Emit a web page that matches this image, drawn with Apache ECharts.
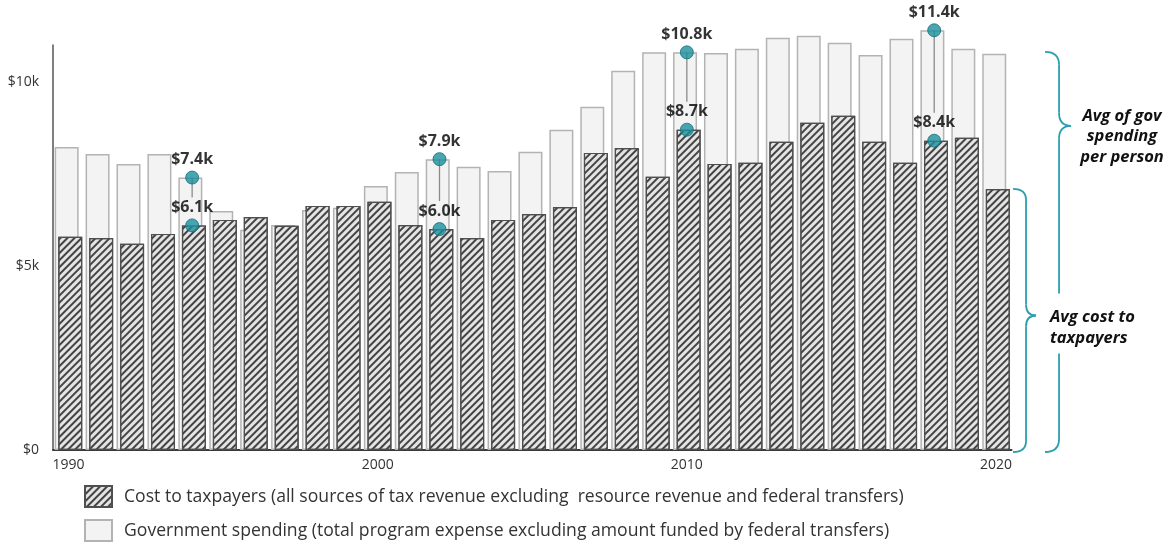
<!DOCTYPE html>
<html>
<head>
<meta charset="utf-8">
<script src="https://cdn.jsdelivr.net/npm/echarts@6/dist/echarts.min.js"></script>
<style>
  html, body { margin: 0; padding: 0; background: #ffffff; }
  #chart { width: 1170px; height: 544px; }
</style>
</head>
<body>
<div id="chart"></div>
<script>
// Per-person amounts, in dollars, by fiscal year
const years = ['1990','1991','1992','1993','1994','1995','1996','1997','1998','1999',
               '2000','2001','2002','2003','2004','2005','2006','2007','2008','2009',
               '2010','2011','2012','2013','2014','2015','2016','2017','2018','2019','2020'];

// Government spending (total program expense excluding federal-transfer funded amount)
const govSpending = [8230, 8040, 7770, 8040, 7400, 6490, 5980, 6110, 6520, 6580,
                     7170, 7550, 7900, 7690, 7580, 8100, 8700, 9320, 10300, 10800,
                     10800, 10780, 10900, 11200, 11250, 11060, 10730, 11170, 11400, 10900, 10760];

// Cost to taxpayers (tax revenue excluding resource revenue and federal transfers)
const taxpayerCost = [5790, 5760, 5600, 5870, 6100, 6250, 6330, 6090, 6630, 6630,
                      6740, 6110, 6000, 5760, 6250, 6410, 6600, 8070, 8200, 7420,
                      8700, 7770, 7800, 8370, 8890, 9080, 8370, 7800, 8400, 8480, 7090];

// Years called out with value labels
const calloutYears = ['1994', '2002', '2010', '2018'];

// Axis tick labels
const xTickYears = ['1990', '2000', '2010', '2020'];
const yTickLabels = { 0: '$0', 5000: '$5k', 10000: '$10k' };

const legendNames = [
  'Cost to taxpayers (all sources of tax revenue excluding  resource revenue and federal transfers)',
  'Government spending (total program expense excluding amount funded by federal transfers)'
];

const braceNotes = {
  gov: ['Avg of gov', 'spending', 'per person'],
  cost: ['Avg cost to', 'taxpayers']
};

const FONT = '"Open Sans", Roboto, "Liberation Sans", sans-serif';
const TEAL = '#1b8e9c';
const BRACE = '#2a9fad';

const fmtK = v => '$' + (v / 1000).toFixed(1) + 'k';

// Callout points: the top of each bar in a called-out year
const calloutPoints = [];
const connectorData = [];
calloutYears.forEach(y => {
  const i = years.indexOf(y);
  calloutPoints.push({ value: [y, govSpending[i]] });
  calloutPoints.push({ value: [y, taxpayerCost[i]] });
  connectorData.push([y, govSpending[i], taxpayerCost[i]]);
});

const chart = echarts.init(document.getElementById('chart'));

const hatch = {
  symbol: 'rect',
  symbolSize: 1,
  dashArrayX: [1, 0],
  dashArrayY: [2, 2.6],
  rotation: -Math.PI / 4,
  color: '#444444'
};

// one legend block per row, stacked
const legendRow = (name, top) => ({
  left: 84,
  top,
  padding: 0,
  itemWidth: 27,
  itemHeight: 21,
  icon: 'rect',
  data: [name],
  textStyle: { fontFamily: FONT, fontSize: 17.6, color: '#333333', padding: [0, 0, 0, 7] }
});

chart.setOption({
  animation: false,
  backgroundColor: '#ffffff',
  textStyle: { fontFamily: FONT },
  grid: { left: 53, right: 158.5, top: 45, bottom: 94, containLabel: false },
  legend: [legendRow(legendNames[0], 485), legendRow(legendNames[1], 519)],
  xAxis: {
    type: 'category',
    data: years,
    boundaryGap: true,
    axisLine: { show: true, lineStyle: { color: '#3a3a3a', width: 2 } },
    axisTick: { show: false },
    axisLabel: {
      interval: 0,
      margin: 8,
      color: '#333333',
      fontSize: 14,
      fontFamily: FONT,
      formatter: v => (xTickYears.indexOf(v) >= 0 ? v : '')
    },
    splitLine: { show: false }
  },
  yAxis: {
    type: 'value',
    min: 0,
    max: 11000,
    interval: 5000,
    axisLine: { show: true, lineStyle: { color: '#555555', width: 1.5 } },
    axisTick: { show: false },
    splitLine: { show: false },
    axisLabel: {
      margin: 14,
      color: '#333333',
      fontSize: 14,
      fontFamily: FONT,
      formatter: v => (yTickLabels[v] !== undefined ? yTickLabels[v] : '')
    }
  },
  series: [
    {
      name: legendNames[1],
      type: 'bar',
      data: govSpending,
      barWidth: 24,
      barGap: '-85%',
      clip: false,
      itemStyle: { color: '#f3f3f3', borderColor: '#b3b3b3', borderWidth: 1.5 },
      z: 2
    },
    {
      name: legendNames[0],
      type: 'bar',
      data: taxpayerCost,
      barWidth: 24,
      barGap: '-85%',
      clip: false,
      itemStyle: { color: '#e4e4e4', borderColor: '#4f4f4f', borderWidth: 1.2, decal: hatch },
      z: 3
    },
    {
      // thin leader from the spending callout down to the taxpayer-cost label
      type: 'custom',
      data: connectorData,
      clip: false,
      z: 4,
      silent: true,
      renderItem: (params, api) => {
        const top = api.coord([api.value(0), api.value(1)]);
        const low = api.coord([api.value(0), api.value(2)]);
        return {
          type: 'line',
          shape: { x1: top[0], y1: top[1], x2: top[0], y2: low[1] - 28 },
          style: { stroke: '#8a8a8a', lineWidth: 1.3 }
        };
      }
    },
    {
      type: 'scatter',
      data: calloutPoints,
      symbol: 'circle',
      symbolSize: 13,
      clip: false,
      z: 5,
      itemStyle: { color: TEAL, borderColor: '#136f7a', borderWidth: 1 },
      label: {
        show: true,
        position: 'top',
        distance: 3,
        fontFamily: FONT,
        fontSize: 16,
        fontWeight: 'bold',
        color: '#000000',
        formatter: p => fmtK(p.value[1])
      }
    }
  ]
});

// Curly brace built from lines and quadratic curves: hooks at x0, spine at xm, tip at xt
function braceParts(x0, xm, xt, yTop, yBot, yTip, r, gap) {
  const style = { stroke: BRACE, lineWidth: 1.8, fill: null };
  const curve = (x1, y1, cx, cy, x2, y2) => ({
    type: 'bezierCurve', silent: true, style,
    shape: { x1, y1, cpx1: cx, cpy1: cy, x2, y2 }
  });
  const line = (y1, y2) => ({
    type: 'line', silent: true, style,
    shape: { x1: xm, y1, x2: xm, y2 }
  });
  const parts = [
    curve(x0, yTop, xm, yTop, xm, yTop + r),
    line(yTop + r, yTip - r),
    curve(xm, yTip - r, xm, yTip, xt, yTip),
    curve(xt, yTip, xm, yTip, xm, yTip + r),
    curve(xm, yBot - r, xm, yBot, x0, yBot)
  ];
  if (gap) {
    parts.push(line(yTip + r, gap[0]), line(gap[1], yBot - r));
  } else {
    parts.push(line(yTip + r, yBot - r));
  }
  return parts;
}

function drawBraces() {
  const last = years[years.length - 1];
  const n = years.length - 1;
  const govTop = chart.convertToPixel({ seriesIndex: 0 }, [last, govSpending[n]]);
  const costTop = chart.convertToPixel({ seriesIndex: 0 }, [last, taxpayerCost[n]]);
  const base = chart.convertToPixel({ seriesIndex: 0 }, [last, 0]);
  const barRight = govTop[0] + 15;

  const costTip = (costTop[1] + base[1]) / 2 - 4;
  const govTip = govTop[1] + 72;

  const textStyle = {
    fontFamily: FONT, fontSize: 16.5, fontWeight: 'bold', fontStyle: 'italic', fill: '#111111'
  };

  const graphics = []
    .concat(braceParts(barRight + 2, barRight + 15, barRight + 25,
                       costTop[1], base[1] + 2, costTip, 11))
    .concat(braceParts(barRight + 34, barRight + 48, barRight + 60,
                       govTop[1] - 2, base[1] + 2, govTip, 13,
                       [costTip - 22, costTip + 38]));

  braceNotes.gov.forEach((t, k) => {
    graphics.push({
      type: 'text', silent: true, x: 1122, y: govTip - 10 + k * 20.5,
      style: Object.assign({ text: t, align: 'center', verticalAlign: 'middle' }, textStyle)
    });
  });
  braceNotes.cost.forEach((t, k) => {
    graphics.push({
      type: 'text', silent: true, x: 1050, y: costTip + 2 + k * 20.5,
      style: Object.assign({ text: t, align: 'left', verticalAlign: 'middle' }, textStyle)
    });
  });

  chart.setOption({ graphic: graphics });
}
drawBraces();
</script>
</body>
</html>
